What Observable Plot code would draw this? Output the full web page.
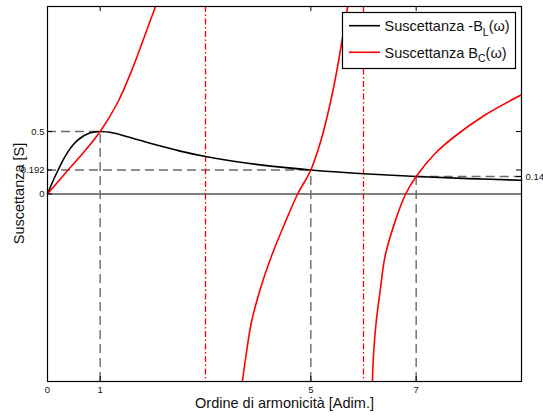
<!DOCTYPE html>
<html>
<head>
<meta charset="utf-8">
<script src="https://cdn.jsdelivr.net/npm/d3@7"></script>
<script src="https://cdn.jsdelivr.net/npm/@observablehq/plot@0.6"></script>
<style>
  body { margin: 0; background: #fff; }
  svg { display: block; }
</style>
</head>
<body>
<div id="chart"></div>
<script>
// Inductive susceptance -B_L(ω) against harmonic order
const bLx = [0, 0.1, 0.2, 0.3, 0.4, 0.5, 0.6, 0.8, 1, 1.25, 1.5, 2, 2.5, 3, 3.5, 4, 5, 6, 7, 8, 9];
const bLy = [0, 0.10, 0.19, 0.275, 0.345, 0.40, 0.44, 0.488, 0.5, 0.488, 0.46, 0.40, 0.345, 0.30, 0.264, 0.235, 0.192, 0.162, 0.14, 0.123, 0.11];

// Capacitive susceptance B_C(ω): three branches separated by the poles
const bC1x = [0, 0.39, 0.7, 1, 1.33, 1.6, 1.85, 2.05];
const bC1y = [0, 0.192, 0.34, 0.5, 0.73, 0.99, 1.27, 1.5];
const bC2x = [3.70, 3.77, 3.87, 4.04, 4.25, 4.50, 4.75, 5, 5.2, 5.36, 5.50, 5.61, 5.70];
const bC2y = [-1.5, -1.29, -1.03, -0.76, -0.50, -0.24, 0, 0.192, 0.44, 0.71, 1.0, 1.27, 1.5];
const bC3x = [6.17, 6.19, 6.24, 6.32, 6.41, 6.59, 6.80, 7, 7.35, 7.73, 8.3, 9];
const bC3y = [-1.5, -1.29, -1.026, -0.762, -0.497, -0.233, 0, 0.14, 0.32, 0.46, 0.63, 0.794];

// Poles of B_C (dash-dot verticals)
const poles = [3, 6];

// Harmonic orders where the two curves meet, and the susceptance there
const harmonics = [1, 5, 7];
const meetValues = [0.5, 0.192, 0.14];
const guideFrom = [0, 0, 7];
const guideTo = [1, 5, 9];

// Tick values and labels
const xTicks = [0, 1, 5, 7];
const yTicks = [0, 0.192, 0.5];
const yTickLabels = ["0", "0.192", "0.5"];
const rightTicks = [0.14, 0.192, 0.5];
const rightLabel = "0.14";

const xDomain = [0, 9];
const yDomain = [-1.5, 1.5];

const xTitle = "Ordine di armonicità [Adim.]";
const yTitle = "Suscettanza [S]";

const W = 543, H = 416;
const mt = 6, mr = 22, mb = 35, ml = 47;
const innerW = W - ml - mr, innerH = H - mt - mb;
const tickLen = 5;
const font = "'Liberation Sans', Arial, Helvetica, sans-serif";

const bL = bLx.map((x, i) => ({x, y: bLy[i]}));
const bC = [
  ...bC1x.map((x, i) => ({x, y: bC1y[i], branch: 1})),
  ...bC2x.map((x, i) => ({x, y: bC2y[i], branch: 2})),
  ...bC3x.map((x, i) => ({x, y: bC3y[i], branch: 3}))
];
const guides = harmonics.map((h, i) => ({h, v: meetValues[i], x1: guideFrom[i], x2: guideTo[i]}));

const guideStyle = {stroke: "#6a6a6a", strokeWidth: 1.4, strokeDasharray: "9,5"};

const chart = Plot.plot({
  width: W,
  height: H,
  marginTop: mt,
  marginRight: mr,
  marginBottom: mb,
  marginLeft: ml,
  x: {domain: xDomain},
  y: {domain: yDomain},
  style: {fontFamily: font, background: "white", color: "#111"},
  marks: [
    Plot.ruleY([0], {stroke: "black", strokeWidth: 1}),
    Plot.ruleX(guides, {x: "h", y1: yDomain[0], y2: "v", ...guideStyle}),
    Plot.ruleY(guides, {y: "v", x1: "x1", x2: "x2", ...guideStyle}),
    Plot.ruleX(poles, {stroke: "#ff0000", strokeWidth: 1.3, strokeDasharray: "6,2.5,1.5,2.5"}),
    Plot.line(bL, {x: "x", y: "y", stroke: "black", strokeWidth: 1.6, curve: "catmull-rom"}),
    Plot.line(bC, {x: "x", y: "y", z: "branch", stroke: "#ff0000", strokeWidth: 1.6, curve: "catmull-rom", clip: true}),
    Plot.frame({stroke: "black", strokeWidth: 1.2}),
    // inward ticks on all four sides
    Plot.tickX(xTicks, {x: d => d, insetTop: innerH - tickLen, stroke: "black"}),
    Plot.tickX(harmonics, {x: d => d, insetBottom: innerH - tickLen, stroke: "black"}),
    Plot.tickY(yTicks, {y: d => d, insetRight: innerW - tickLen, stroke: "black"}),
    Plot.tickY(rightTicks, {y: d => d, insetLeft: innerW - tickLen, stroke: "black"}),
    Plot.axisX(xTicks, {tickSize: 0, tickPadding: 5, fontSize: 9.5, label: null}),
    Plot.axisY(yTicks, {tickSize: 0, tickPadding: 3, fontSize: 9.5, label: null,
      tickFormat: d => yTickLabels[yTicks.indexOf(d)]}),
    Plot.text([rightLabel], {x: xDomain[1], y: rightTicks[0], dx: 4, textAnchor: "start", fontSize: 9.5, clip: false}),
    Plot.text([xTitle], {frameAnchor: "bottom", dy: 26.5, fontSize: 14.5})
  ]
});

document.getElementById("chart").append(chart);

const svg = d3.select(chart);

// Vertical axis title
svg.append("text")
  .attr("transform", `translate(24,${mt + innerH / 2}) rotate(-90)`)
  .attr("text-anchor", "middle")
  .attr("font-family", font)
  .attr("font-size", 14.5)
  .attr("fill", "#111")
  .text(yTitle);

// Legend box in the upper right corner of the axes
const legend = svg.append("g")
  .attr("font-family", font)
  .attr("font-size", 14.5)
  .attr("text-anchor", "start");
legend.append("rect")
  .attr("x", 342.5).attr("y", 12.5).attr("width", 173).attr("height", 56)
  .attr("fill", "white").attr("stroke", "black").attr("stroke-width", 1.2);
const entries = [
  {color: "black", main: "Suscettanza -B", sub: "L", y: 25.7},
  {color: "#ff0000", main: "Suscettanza B", sub: "C", y: 52.3}
];
entries.forEach(e => {
  legend.append("line")
    .attr("x1", 349).attr("x2", 380).attr("y1", e.y).attr("y2", e.y)
    .attr("stroke", e.color).attr("stroke-width", 1.6);
  const t = legend.append("text")
    .attr("x", 384.5).attr("y", e.y + 5.3)
    .attr("text-anchor", "start")
    .attr("fill", "#111");
  t.append("tspan").text(e.main);
  t.append("tspan").attr("font-size", 10.5).attr("dy", 4.5).text(e.sub);
  t.append("tspan").attr("dy", -4.5).text("(ω)");
});
</script>
</body>
</html>
